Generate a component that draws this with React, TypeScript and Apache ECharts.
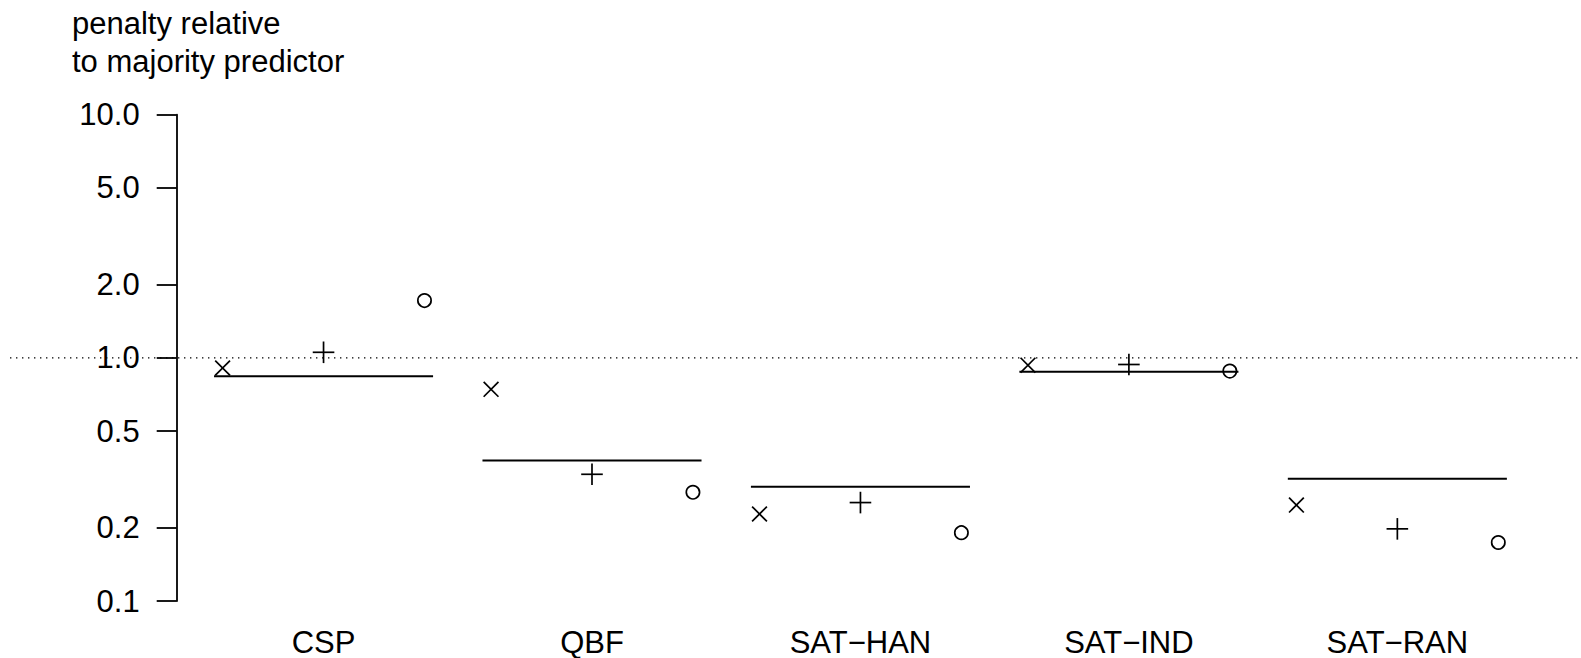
import React, { useEffect, useRef } from "react";
import * as echarts from "echarts";

// ---- data ----
const categories = ["CSP", "QBF", "SAT\u2212HAN", "SAT\u2212IND", "SAT\u2212RAN"];
const crossValues = [0.908, 0.742, 0.228, 0.933, 0.248];
const plusValues = [1.054, 0.332, 0.254, 0.939, 0.198];
const circleValues = [1.72, 0.28, 0.191, 0.882, 0.174];
const lineValues = [0.84, 0.378, 0.295, 0.877, 0.318];
const yTicks = [0.1, 0.2, 0.5, 1, 2, 5, 10];
const referenceValue = 1;
const titleLines = ["penalty relative", "to majority predictor"];

// ---- layout / style constants ----
const MARKER_OFFSET = 0.376;
const LINE_HALF = 0.408;
const FONT = "'Liberation Sans', Arial, Helvetica, sans-serif";
const FS = 31;
const INK = "#000";

const log = (v: number) => Math.log10(v);

export default function App() {
  const ref = useRef<HTMLDivElement>(null);

  useEffect(() => {
    if (!ref.current) return;
    const chart = echarts.init(ref.current, undefined, { renderer: "svg" });

    const markerStyle = { stroke: INK, lineWidth: 1.7, fill: "none" };

    const option: any = {
      animation: false,
      backgroundColor: "#fff",
      textStyle: { fontFamily: FONT },
      title: {
        text: titleLines.join("\n"),
        left: 72,
        top: 4,
        padding: 0,
        textStyle: {
          fontFamily: FONT,
          fontSize: FS,
          fontWeight: "normal",
          color: INK,
          lineHeight: 38.4,
        },
      },
      grid: { left: 176.7, top: 114.7, width: 1368.3, height: 486.3 },
      xAxis: {
        type: "value",
        min: 0.453,
        max: 5.55,
        axisLine: { show: false },
        axisTick: { show: false },
        splitLine: { show: false },
        axisLabel: {
          customValues: [1, 2, 3, 4, 5],
          formatter: (v: number) => categories[Math.round(v) - 1] ?? "",
          fontFamily: FONT,
          fontSize: FS,
          lineHeight: 26,
          color: INK,
          margin: 28,
        },
      },
      yAxis: {
        type: "value",
        min: -1,
        max: 1,
        axisLine: { show: true, lineStyle: { color: INK, width: 1.8 } },
        axisTick: {
          show: true,
          length: 20,
          customValues: yTicks.map(log),
          lineStyle: { color: INK, width: 1.8 },
        },
        splitLine: { show: false },
        axisLabel: {
          customValues: yTicks.map(log),
          formatter: (v: number) => Math.pow(10, v).toFixed(1),
          fontFamily: FONT,
          fontSize: FS,
          color: INK,
          margin: 37,
        },
      },
      series: [
        {
          type: "custom",
          name: "reference",
          data: [[1, log(referenceValue)]],
          clip: false,
          silent: true,
          renderItem: (params: any, api: any) => {
            const p = api.coord([api.value(0), api.value(1)]);
            return {
              type: "line",
              shape: { x1: 10, y1: p[1], x2: api.getWidth(), y2: p[1] },
              style: { stroke: INK, lineWidth: 1.4, lineDash: [1.4, 4.6] },
            };
          },
        },
        {
          type: "custom",
          name: "line",
          data: lineValues.map((v, k) => [k + 1, log(v)]),
          clip: false,
          renderItem: (params: any, api: any) => {
            const a = api.coord([api.value(0) - LINE_HALF, api.value(1)]);
            const b = api.coord([api.value(0) + LINE_HALF, api.value(1)]);
            return {
              type: "line",
              shape: { x1: a[0], y1: a[1], x2: b[0], y2: b[1] },
              style: { stroke: INK, lineWidth: 2 },
            };
          },
        },
        {
          type: "custom",
          name: "cross",
          data: crossValues.map((v, k) => [k + 1 - MARKER_OFFSET, log(v)]),
          clip: false,
          renderItem: (params: any, api: any) => {
            const p = api.coord([api.value(0), api.value(1)]);
            const h = 7.4;
            return {
              type: "group",
              children: [
                { type: "line", shape: { x1: p[0] - h, y1: p[1] - h, x2: p[0] + h, y2: p[1] + h }, style: markerStyle },
                { type: "line", shape: { x1: p[0] - h, y1: p[1] + h, x2: p[0] + h, y2: p[1] - h }, style: markerStyle },
              ],
            };
          },
        },
        {
          type: "custom",
          name: "plus",
          data: plusValues.map((v, k) => [k + 1, log(v)]),
          clip: false,
          renderItem: (params: any, api: any) => {
            const p = api.coord([api.value(0), api.value(1)]);
            const h = 10.8;
            return {
              type: "group",
              children: [
                { type: "line", shape: { x1: p[0] - h, y1: p[1], x2: p[0] + h, y2: p[1] }, style: markerStyle },
                { type: "line", shape: { x1: p[0], y1: p[1] - h, x2: p[0], y2: p[1] + h }, style: markerStyle },
              ],
            };
          },
        },
        {
          type: "custom",
          name: "circle",
          data: circleValues.map((v, k) => [k + 1 + MARKER_OFFSET, log(v)]),
          clip: false,
          renderItem: (params: any, api: any) => {
            const p = api.coord([api.value(0), api.value(1)]);
            return {
              type: "circle",
              shape: { cx: p[0], cy: p[1], r: 6.65 },
              style: markerStyle,
            };
          },
        },
      ],
    };

    chart.setOption(option);
    return () => chart.dispose();
  }, []);

  return (
    <div
      ref={ref}
      style={{ position: "fixed", left: 0, top: 0, width: 1581, height: 658, background: "#fff" }}
    />
  );
}
